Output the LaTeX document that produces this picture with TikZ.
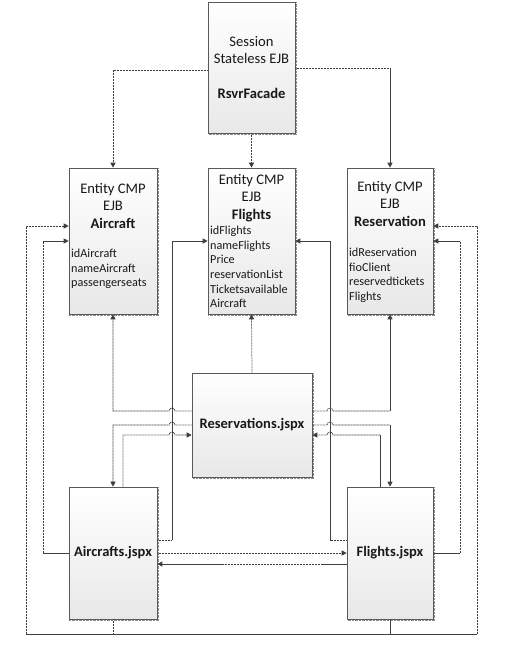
\documentclass[tikz,border=0pt]{standalone}
\usepackage{fontspec}
\setmainfont{Carlito}
\usetikzlibrary{arrows.meta}
\definecolor{lc}{HTML}{404040}
\definecolor{dc}{HTML}{3C3C3C}
\tikzset{
  ebox/.style={draw=black!65, line width=0.6pt, top color=white, bottom color=black!9, inner sep=0pt},
  shad/.style={draw=black!45, line width=0.6pt, dash pattern=on 0.7pt off 0.7pt},
  dline/.style={draw=dc, line width=0.75pt, dash pattern=on 0.9pt off 0.6pt},
  sline/.style={draw=lc, line width=0.8pt},
  arr/.style={-{Triangle[length=5pt,width=5pt]}, },
  head/.style={inner sep=0pt, align=center, font=\fontsize{14.6}{17.5}\selectfont, text=black!90},
  attr/.style={inner sep=0pt, align=left, font=\fontsize{12.2}{14.6}\selectfont, text=black!90},
  jsp/.style={font=\fontsize{14.5}{17}\selectfont\bfseries, text=black!90},
}
\begin{document}
\begin{tikzpicture}[x=1pt,y=-1pt]
\useasboundingbox[fill=white] (0,0) rectangle (504,646);
% boxes
\node[ebox, minimum width=87pt, minimum height=131pt] (sess) at (251.5,67.5) {};
\node[ebox, minimum width=88pt, minimum height=146pt] (ac) at (113,241) {};
\node[ebox, minimum width=87pt, minimum height=146pt] (fl) at (251.5,241) {};
\node[ebox, minimum width=86pt, minimum height=146pt] (rv) at (390,241) {};
\node[ebox, minimum width=120pt, minimum height=104pt, jsp] (rj) at (252,425) {Reservations.jspx};
\node[ebox, minimum width=88pt, minimum height=132pt, jsp] (aj) at (113,553) {Aircrafts.jspx};
\node[ebox, minimum width=86pt, minimum height=132pt, jsp] (fj) at (390,553) {Flights.jspx};
\foreach \n in {sess,ac,fl,rv,rj,aj,fj}
  \draw[shad] ([shift={(1.3,0.5)}]\n.north east) -- ([shift={(1.3,1.3)}]\n.south east) -- ([shift={(0.5,1.3)}]\n.south west);
% texts
\node[head, anchor=north] (sesst) at (251.5,36) {Session\\Stateless EJB\\[17.5pt]\textbf{RsvrFacade}};
\node[head, anchor=north] (ach) at (113,183) {Entity CMP\\EJB\\\textbf{Aircraft}};
\node[attr, anchor=north west] (aca) at (71,249) {idAircraft\\nameAircraft\\passengerseats};
\node[head, anchor=north] (flh) at (251.5,174) {Entity CMP\\EJB\\\textbf{Flights}};
\node[attr, anchor=north west] (fla) at (210,226) {idFlights\\nameFlights\\Price\\reservationList\\Ticketsavailable\\Aircraft};
\node[head, anchor=north] (rvh) at (390,181) {Entity CMP\\EJB\\\textbf{Reservation}};
\node[attr, anchor=north west] (rva) at (349,248) {idReservation\\fioClient\\reservedtickets\\Flights};
% session connectors
\draw[dline,arr] (sess.west |- 0,70) -| (ac.north);
\draw[dline,arr] (sess.south) -- (fl.north);
\coordinate (s3) at (rv.north |- 0,68);
\draw[dline] (sess.east |- 0,68) -- (s3);
\draw[sline,arr] (s3) -- (rv.north);
% reservations.jspx connectors
\draw[dline,arr] (rj.north) -- (fl.south);
\draw[dline,arr] (rj.west |- 0,411) -- (175,411) arc[start angle=0,end angle=180,radius=3pt] -| (ac.south);
\coordinate (c3) at (rv.south |- 0,411);
\draw[dline] (rj.east |- 0,411) -- (327,411) arc[start angle=180,end angle=0,radius=3pt] -- (c3);
\draw[sline,arr] (c3) -- (rv.south);
\draw[dline,arr] (rj.west |- 0,425) -- (175,425) arc[start angle=0,end angle=180,radius=3pt] -| (aj.north);
\coordinate (c5) at (fj.north |- 0,425);
\draw[dline] (rj.east |- 0,425) -- (327,425) arc[start angle=180,end angle=0,radius=3pt] -- (c5);
\draw[sline,arr] (c5) -- (fj.north);
\draw[dline,arr] (aj.north -| 123,0) -- (123,435) -- (169,435) arc[start angle=180,end angle=0,radius=3pt] -- (rj.west |- 0,435);
\coordinate (c7) at (380,435);
\draw[sline] (fj.north -| 380,0) -- (c7);
\draw[dline,arr] (c7) -- (333,435) arc[start angle=0,end angle=180,radius=3pt] -- (rj.east |- 0,435);
% jspx to entities
\coordinate (c8) at (172,540);
\draw[dline] (aj.east |- 0,540) -- (c8);
\draw[sline,arr] (c8) -- (172,241) -- (fl.west |- 0,241);
\coordinate (c9) at (330,540);
\draw[dline] (fj.west |- 0,540) -- (c9);
\draw[sline,arr] (c9) -- (330,241) -- (fl.east |- 0,241);
\coordinate (c10a) at (43,553);
\coordinate (c10b) at (43,241);
\draw[sline] (aj.west) -- (c10a);
\draw[dline] (c10a) -- (c10b);
\draw[sline,arr] (c10b) -- (ac.west |- 0,241);
\coordinate (c12a) at (460,553);
\coordinate (c12b) at (460,241);
\draw[sline] (fj.east) -- (c12a);
\draw[dline] (c12a) -- (c12b);
\draw[sline,arr] (c12b) -- (rv.east |- 0,241);
% bottom loop
\coordinate (bl) at (26,634);
\coordinate (br) at (477,634);
\draw[dline] (aj.south) -- (aj.south |- bl);
\draw[sline] (fj.south) -- (fj.south |- bl);
\draw[sline] (bl) -- (br);
\draw[dline,arr] (bl) -- (26,226) -- (ac.west |- 0,226);
\draw[dline,arr] (br) -- (477,226) -- (rv.east |- 0,226);
% between jspx
\draw[dline,arr] (aj.east) -- (fj.west);
\coordinate (c14a) at (323,564);
\coordinate (c14b) at (224,564);
\draw[sline] (fj.west |- 0,564) -- (c14a);
\draw[dline] (c14a) -- (c14b);
\draw[sline,arr] (c14b) -- (aj.east |- 0,564);
\end{tikzpicture}
\end{document}
